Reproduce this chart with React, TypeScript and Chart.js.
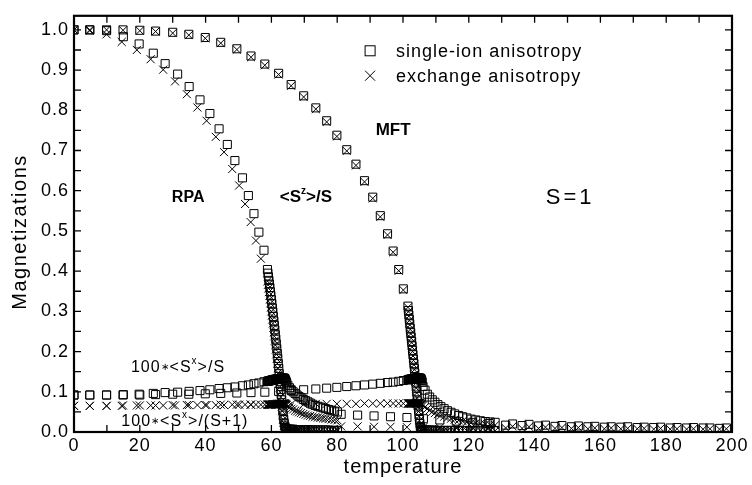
import React, { useEffect, useRef } from 'react';
import { Chart, registerables } from 'chart.js';

Chart.register(...registerables);

const FONT = '"Liberation Sans", Arial, Helvetica, sans-serif';

// ---------------- RPA, sparse part below Tc ----------------
const rpaSqT = [0, 4.8, 9.9, 15, 19.8, 24.1, 27.7, 31.5, 35, 38.3, 41.3, 44.1, 46.6, 48.9, 51.2, 53, 54.7, 56.2, 57.75];
const rpaSqSz = [1.0, 1.0, 0.998, 0.983, 0.965, 0.942, 0.916, 0.89, 0.859, 0.826, 0.792, 0.754, 0.715, 0.675, 0.632, 0.588, 0.543, 0.497, 0.452];
const rpaSqSx = [0.092, 0.092, 0.092, 0.093, 0.094, 0.096, 0.098, 0.099, 0.101, 0.103, 0.105, 0.108, 0.11, 0.112, 0.115, 0.117, 0.12, 0.122, 0.125];
const rpaXT = [0, 4.8, 9.9, 14.5, 19.1, 23.3, 27.1, 30.7, 34.3, 37.5, 40.3, 43.1, 45.6, 48.1, 50.2, 52, 53.7, 55.3, 56.8];
const rpaXSz = [1.0, 0.998, 0.989, 0.97, 0.95, 0.927, 0.901, 0.872, 0.84, 0.807, 0.774, 0.734, 0.696, 0.654, 0.613, 0.567, 0.522, 0.476, 0.431];
const rpaXSx = [0.065, 0.065, 0.065, 0.065, 0.066, 0.066, 0.066, 0.066, 0.067, 0.067, 0.067, 0.067, 0.067, 0.068, 0.068, 0.068, 0.068, 0.068, 0.068];

// ---------------- RPA, dense part near Tc ----------------
const rpaDenseT = [58.8, 58.95, 59.1, 59.25, 59.4, 59.55, 59.7, 59.85, 60.0, 60.15, 60.3, 60.45, 60.6, 60.75, 60.9, 61.05, 61.2, 61.35, 61.5, 61.65, 61.8, 61.95, 62.1, 62.25, 62.4, 62.55, 62.7, 62.85, 63.0, 63.15, 63.3, 63.45, 63.6, 63.75, 63.9, 64.05, 64.2, 64.35, 64.5, 64.65];
const rpaDenseSqSz = [0.404, 0.395, 0.386, 0.377, 0.368, 0.359, 0.349, 0.339, 0.329, 0.319, 0.308, 0.298, 0.287, 0.276, 0.265, 0.254, 0.242, 0.231, 0.219, 0.207, 0.195, 0.183, 0.17, 0.158, 0.145, 0.132, 0.119, 0.106, 0.093, 0.08, 0.067, 0.054, 0.042, 0.031, 0.022, 0.015, 0.011, 0.009, 0.008, 0.007];
const rpaDenseXSz = [0.375, 0.366, 0.357, 0.348, 0.339, 0.33, 0.32, 0.31, 0.3, 0.29, 0.28, 0.27, 0.259, 0.248, 0.238, 0.227, 0.216, 0.205, 0.193, 0.182, 0.17, 0.159, 0.147, 0.135, 0.123, 0.111, 0.099, 0.087, 0.075, 0.063, 0.052, 0.041, 0.031, 0.023, 0.016, 0.011, 0.008, 0.007, 0.006, 0.006];
const rpaDenseSqSx = [0.126, 0.126, 0.127, 0.127, 0.127, 0.128, 0.128, 0.128, 0.129, 0.129, 0.129, 0.13, 0.13, 0.13, 0.13, 0.131, 0.131, 0.131, 0.131, 0.132, 0.132, 0.132, 0.132, 0.132, 0.133, 0.133, 0.133, 0.133, 0.133, 0.134, 0.134, 0.134, 0.134, 0.134, 0.134, 0.133, 0.131, 0.128, 0.125, 0.122];
const rpaDenseXSx = [0.068, 0.068, 0.068, 0.068, 0.068, 0.068, 0.068, 0.068, 0.068, 0.068, 0.069, 0.069, 0.069, 0.069, 0.069, 0.069, 0.069, 0.069, 0.069, 0.069, 0.07, 0.07, 0.07, 0.07, 0.07, 0.07, 0.07, 0.07, 0.07, 0.07, 0.07, 0.07, 0.071, 0.071, 0.071, 0.071, 0.07, 0.069, 0.068, 0.067];

// ---------------- RPA, dense tail above Tc ----------------
const rpaTailT = [65.0, 65.5, 66.0, 66.6, 67.2, 67.8, 68.4, 69.0, 69.7, 70.4, 71.1, 71.8, 72.5, 73.3, 74.1, 74.9, 75.7, 76.5, 77.4, 78.3, 79.2, 80.1];
const rpaTailSqSx = [0.116, 0.11, 0.105, 0.1, 0.096, 0.092, 0.088, 0.085, 0.081, 0.078, 0.075, 0.072, 0.069, 0.066, 0.064, 0.062, 0.06, 0.058, 0.056, 0.054, 0.052, 0.05];
const rpaTailXSx = [0.064, 0.061, 0.058, 0.056, 0.053, 0.051, 0.049, 0.047, 0.045, 0.043, 0.041, 0.04, 0.038, 0.037, 0.036, 0.035, 0.034, 0.033, 0.032, 0.031, 0.03, 0.029];
const rpaTailSqSz = [0.007, 0.007, 0.007, 0.007, 0.006, 0.006, 0.006, 0.006, 0.006, 0.006, 0.006, 0.005, 0.005, 0.005, 0.005, 0.005, 0.005, 0.005, 0.005, 0.004, 0.004, 0.004];
const rpaTailXSz = [0.005, 0.005, 0.005, 0.005, 0.005, 0.005, 0.005, 0.004, 0.004, 0.004, 0.004, 0.004, 0.004, 0.004, 0.004, 0.004, 0.004, 0.003, 0.003, 0.003, 0.003, 0.003];

// ---------------- RPA, sparse part at high temperature ----------------
const rpaHighT = [81.2, 86.2, 91.2, 96.2, 101.2, 106.2, 111.2, 116.2, 121.2, 126.2, 131.2, 136.2, 141.2, 146.2, 151.2, 156.2, 161.2, 166.2, 171.2, 176.2, 181.2, 186.2, 191.2, 196.2];
const rpaHighSqSx = [0.044, 0.042, 0.04, 0.038, 0.036, 0.033, 0.03, 0.027, 0.024, 0.021, 0.017, 0.016, 0.015, 0.014, 0.013, 0.013, 0.012, 0.012, 0.011, 0.011, 0.01, 0.01, 0.01, 0.009];
const rpaHighXSx = [0.014, 0.014, 0.013, 0.013, 0.012, 0.012, 0.011, 0.011, 0.01, 0.01, 0.01, 0.009, 0.009, 0.009, 0.009, 0.008, 0.008, 0.008, 0.008, 0.007, 0.007, 0.007, 0.007, 0.007];

// ---------------- MFT, sparse part below Tc ----------------
const mftT = [0, 4.8, 9.9, 14.9, 20, 24.8, 30, 34.9, 39.9, 44.6, 49.5, 53.8, 58, 62.2, 66, 69.8, 73.5, 76.8, 79.9, 82.9, 85.7, 88.3, 90.8, 93.1, 95.3, 97.0, 98.7, 100.1];
const mftSqSz = [1.0, 1.0, 1.0, 1.0, 0.999, 0.997, 0.994, 0.989, 0.981, 0.969, 0.953, 0.935, 0.915, 0.892, 0.864, 0.836, 0.806, 0.774, 0.738, 0.702, 0.666, 0.625, 0.584, 0.538, 0.493, 0.45, 0.404, 0.356];
const mftXSz = [1.0, 1.0, 1.0, 0.999, 0.998, 0.996, 0.992, 0.987, 0.979, 0.967, 0.951, 0.932, 0.912, 0.889, 0.861, 0.833, 0.803, 0.771, 0.735, 0.699, 0.663, 0.622, 0.581, 0.535, 0.49, 0.447, 0.401, 0.353];
const mftSqSx = [0.092, 0.092, 0.092, 0.092, 0.092, 0.093, 0.094, 0.094, 0.095, 0.096, 0.097, 0.098, 0.099, 0.101, 0.103, 0.105, 0.107, 0.109, 0.111, 0.113, 0.115, 0.117, 0.119, 0.121, 0.123, 0.124, 0.126, 0.128];
const mftXSx = [0.065, 0.065, 0.065, 0.066, 0.066, 0.066, 0.067, 0.067, 0.067, 0.068, 0.068, 0.068, 0.068, 0.069, 0.069, 0.069, 0.07, 0.07, 0.07, 0.07, 0.07, 0.071, 0.071, 0.071, 0.071, 0.071, 0.071, 0.071];

// ---------------- MFT, dense part near Tc ----------------
const mftDenseT = [101.5, 101.64, 101.78, 101.92, 102.06, 102.2, 102.34, 102.48, 102.62, 102.76, 102.9, 103.04, 103.18, 103.32, 103.46, 103.6, 103.74, 103.88, 104.02, 104.16, 104.3, 104.44, 104.58, 104.72, 104.86, 105.0, 105.14, 105.28, 105.42, 105.56, 105.7, 105.84];
const mftDenseSqSz = [0.313, 0.302, 0.291, 0.28, 0.269, 0.258, 0.247, 0.236, 0.225, 0.214, 0.203, 0.192, 0.181, 0.17, 0.158, 0.147, 0.135, 0.124, 0.112, 0.1, 0.088, 0.077, 0.065, 0.054, 0.042, 0.031, 0.021, 0.013, 0.008, 0.005, 0.004, 0.003];
const mftDenseXSz = [0.31, 0.299, 0.288, 0.277, 0.266, 0.255, 0.244, 0.233, 0.222, 0.211, 0.2, 0.189, 0.178, 0.167, 0.155, 0.144, 0.132, 0.121, 0.109, 0.097, 0.085, 0.074, 0.062, 0.051, 0.039, 0.028, 0.019, 0.012, 0.007, 0.005, 0.004, 0.003];
const mftDenseSqSx = [0.13, 0.13, 0.13, 0.131, 0.131, 0.131, 0.131, 0.131, 0.132, 0.132, 0.132, 0.132, 0.132, 0.132, 0.133, 0.133, 0.133, 0.133, 0.133, 0.133, 0.134, 0.134, 0.134, 0.134, 0.134, 0.134, 0.134, 0.134, 0.133, 0.131, 0.128, 0.124];
const mftDenseXSx = [0.071, 0.071, 0.071, 0.071, 0.071, 0.071, 0.071, 0.071, 0.071, 0.071, 0.071, 0.071, 0.071, 0.071, 0.071, 0.071, 0.071, 0.071, 0.071, 0.072, 0.072, 0.072, 0.072, 0.072, 0.072, 0.072, 0.072, 0.072, 0.071, 0.07, 0.069, 0.067];

// ---------------- MFT, dense tail above Tc ----------------
const mftTailT = [106.1, 106.7, 107.4, 108.1, 108.9, 109.7, 110.6, 111.5, 112.5, 113.5, 114.6, 115.7, 116.9, 118.1, 119.4, 120.7, 122.1, 123.5, 125, 126.5, 128];
const mftTailSqSx = [0.113, 0.104, 0.094, 0.087, 0.08, 0.074, 0.068, 0.063, 0.058, 0.053, 0.049, 0.045, 0.041, 0.038, 0.035, 0.032, 0.03, 0.028, 0.026, 0.025, 0.024];
const mftTailXSx = [0.066, 0.062, 0.058, 0.054, 0.05, 0.047, 0.044, 0.041, 0.038, 0.035, 0.033, 0.031, 0.029, 0.027, 0.025, 0.023, 0.022, 0.02, 0.019, 0.018, 0.017];
const mftTailSz = [0.005, 0.005, 0.005, 0.005, 0.005, 0.004, 0.004, 0.004, 0.004, 0.004, 0.004, 0.004, 0.004, 0.004, 0.003, 0.003, 0.003, 0.003, 0.003, 0.003, 0.003];

// ---------------- MFT, sparse part at high temperature ----------------
const mftHighT = [133.3, 138.3, 143.3, 148.3, 153.3, 158.3, 163.3, 168.3, 173.3, 178.3, 183.3, 188.3, 193.3, 198.3];
const mftHighSqSx = [0.02, 0.019, 0.017, 0.016, 0.015, 0.014, 0.013, 0.013, 0.012, 0.012, 0.011, 0.011, 0.01, 0.01];
const mftHighXSx = [0.014, 0.013, 0.012, 0.011, 0.011, 0.01, 0.01, 0.009, 0.009, 0.009, 0.008, 0.008, 0.008, 0.008];

// ---------------- axes ----------------
const xTickValues = [0, 20, 40, 60, 80, 100, 120, 140, 160, 180, 200];
const xTickMarks = [10, 20, 30, 40, 50, 60, 70, 80, 90, 100, 110, 120, 130, 140, 150, 160, 170, 180, 190];
const yTickMarks = [0.05, 0.1, 0.15, 0.2, 0.25, 0.3, 0.35, 0.4, 0.45, 0.5, 0.55, 0.6, 0.65, 0.7, 0.75, 0.8, 0.85, 0.9, 0.95, 1.0];
const xTitle = 'temperature';
const yTitle = 'Magnetizations';
const legendLabels = ['single-ion anisotropy', 'exchange anisotropy'];

type Pt = { x: number; y: number };
function pts(ts: number[][], vs: number[][]): Pt[] {
  const out: Pt[] = [];
  ts.forEach((t, k) => t.forEach((tv, i) => out.push({ x: tv, y: vs[k][i] })));
  return out;
}

function series(label: string, data: Pt[], style: string) {
  return {
    label,
    data,
    pointStyle: style,
    pointRadius: 5.7,
    pointBorderWidth: 1,
    pointBorderColor: '#000',
    pointBackgroundColor: 'rgba(0,0,0,0)',
    borderColor: '#000',
    backgroundColor: 'rgba(0,0,0,0)',
    showLine: false,
  };
}

type Part = { t: string; size: number; bold?: boolean; dy?: number };

function drawRich(ctx: CanvasRenderingContext2D, parts: Part[], x: number, y: number, spacing: number, align: 'center' | 'left') {
  (ctx as any).letterSpacing = spacing + 'px';
  ctx.textAlign = 'left';
  ctx.textBaseline = 'middle';
  const ws = parts.map((p) => {
    ctx.font = `${p.bold ? 'bold ' : ''}${p.size}px ${FONT}`;
    return ctx.measureText(p.t).width;
  });
  const total = ws.reduce((a, b) => a + b, 0);
  let cx = align === 'center' ? x - total / 2 : x;
  parts.forEach((p, i) => {
    ctx.font = `${p.bold ? 'bold ' : ''}${p.size}px ${FONT}`;
    ctx.fillText(p.t, cx, y + (p.dy || 0));
    cx += ws[i];
  });
}

const annotations: { parts: Part[]; t: number; m: number; sp: number }[] = [
  { parts: [{ t: 'RPA', size: 16, bold: true }], t: 34.7, m: 0.583, sp: 0 },
  { parts: [{ t: '<S', size: 17, bold: true }, { t: 'z', size: 10, bold: true, dy: -6 }, { t: '>/S', size: 17, bold: true }], t: 70.5, m: 0.583, sp: 0 },
  { parts: [{ t: 'MFT', size: 17, bold: true }], t: 97, m: 0.75, sp: 0 },
  { parts: [{ t: 'S=1', size: 22 }], t: 150.8, m: 0.583, sp: 3 },
  { parts: [{ t: '100', size: 16 }, { t: '∗', size: 10 }, { t: '<S', size: 16 }, { t: 'x', size: 10, dy: -6 }, { t: '>/S', size: 16 }], t: 31.6, m: 0.161, sp: 1 },
  { parts: [{ t: '100', size: 16 }, { t: '∗', size: 10 }, { t: '<S', size: 16 }, { t: 'x', size: 10, dy: -6 }, { t: '>/(S+1)', size: 16 }], t: 33.7, m: 0.027, sp: 1 },
];

const decor = {
  id: 'decor',
  beforeDraw(chart: any) {
    chart.ctx.letterSpacing = '1px';
  },
  afterDraw(chart: any) {
    const ctx: CanvasRenderingContext2D = chart.ctx;
    const a = chart.chartArea;
    const xs = chart.scales.x;
    const ys = chart.scales.y;
    ctx.save();
    ctx.strokeStyle = '#000';
    ctx.fillStyle = '#000';
    // inward tick marks
    ctx.lineWidth = 1.3;
    ctx.beginPath();
    xTickMarks.forEach((v) => {
      const px = xs.getPixelForValue(v);
      ctx.moveTo(px, a.bottom);
      ctx.lineTo(px, a.bottom - 7);
      ctx.moveTo(px, a.top);
      ctx.lineTo(px, a.top + 7);
    });
    yTickMarks.forEach((v) => {
      const py = ys.getPixelForValue(v);
      ctx.moveTo(a.left, py);
      ctx.lineTo(a.left + 7, py);
      ctx.moveTo(a.right, py);
      ctx.lineTo(a.right - 7, py);
    });
    ctx.stroke();
    // frame
    ctx.lineWidth = 2.2;
    ctx.strokeRect(a.left, a.top, a.right - a.left, a.bottom - a.top);

    // annotations
    annotations.forEach((an) => {
      drawRich(ctx, an.parts, xs.getPixelForValue(an.t), ys.getPixelForValue(an.m), an.sp, 'center');
    });

    // legend
    const lx = xs.getPixelForValue(90);
    const ly1 = ys.getPixelForValue(0.948);
    const ly2 = ys.getPixelForValue(0.886);
    ctx.lineWidth = 1;
    ctx.strokeRect(lx - 5, ly1 - 5, 10, 10);
    ctx.beginPath();
    ctx.moveTo(lx - 5, ly2 - 5);
    ctx.lineTo(lx + 5, ly2 + 5);
    ctx.moveTo(lx + 5, ly2 - 5);
    ctx.lineTo(lx - 5, ly2 + 5);
    ctx.stroke();
    const tx = xs.getPixelForValue(97.9);
    drawRich(ctx, [{ t: legendLabels[0], size: 18 }], tx, ly1 + 1, 1, 'left');
    drawRich(ctx, [{ t: legendLabels[1], size: 18 }], tx, ly2 + 1, 1, 'left');

    // axis titles
    drawRich(ctx, [{ t: xTitle, size: 20 }], (a.left + a.right) / 2, 467, 1, 'center');
    ctx.save();
    ctx.translate(20, 232);
    ctx.rotate(-Math.PI / 2);
    drawRich(ctx, [{ t: yTitle, size: 20 }], 0, 0, 1.5, 'center');
    ctx.restore();

    ctx.restore();
    (ctx as any).letterSpacing = '0px';
  },
};

export default function App() {
  const ref = useRef<HTMLCanvasElement>(null);
  useEffect(() => {
    const canvas = ref.current;
    if (!canvas) return;
    const datasets = [
      series('RPA single-ion <Sz>/S', pts([rpaSqT, rpaDenseT, rpaTailT], [rpaSqSz, rpaDenseSqSz, rpaTailSqSz]), 'rect'),
      series('RPA exchange <Sz>/S', pts([rpaXT, rpaDenseT, rpaTailT], [rpaXSz, rpaDenseXSz, rpaTailXSz]), 'crossRot'),
      series('RPA single-ion 100<Sx>', pts([rpaSqT, rpaDenseT, rpaTailT, rpaHighT], [rpaSqSx, rpaDenseSqSx, rpaTailSqSx, rpaHighSqSx]), 'rect'),
      series('RPA exchange 100<Sx>', pts([rpaXT, rpaDenseT, rpaTailT, rpaHighT], [rpaXSx, rpaDenseXSx, rpaTailXSx, rpaHighXSx]), 'crossRot'),
      series('MFT single-ion <Sz>/S', pts([mftT, mftDenseT, mftTailT], [mftSqSz, mftDenseSqSz, mftTailSz]), 'rect'),
      series('MFT exchange <Sz>/S', pts([mftT, mftDenseT, mftTailT], [mftXSz, mftDenseXSz, mftTailSz]), 'crossRot'),
      series('MFT single-ion 100<Sx>', pts([mftT, mftDenseT, mftTailT, mftHighT], [mftSqSx, mftDenseSqSx, mftTailSqSx, mftHighSqSx]), 'rect'),
      series('MFT exchange 100<Sx>', pts([mftT, mftDenseT, mftTailT, mftHighT], [mftXSx, mftDenseXSx, mftTailXSx, mftHighXSx]), 'crossRot'),
    ];
    const chart = new Chart(canvas, {
      type: 'scatter',
      data: { datasets: datasets as any },
      options: {
        responsive: false,
        animation: false,
        devicePixelRatio: 1,
        events: [],
        layout: { padding: { top: 15, right: 20, left: 0, bottom: 0 } },
        plugins: { legend: { display: false }, tooltip: { enabled: false } },
        scales: {
          x: {
            type: 'linear',
            min: 0,
            max: 200,
            grid: { display: false, drawTicks: false },
            border: { display: false },
            afterFit: (s: any) => { s.height = 53; },
            afterBuildTicks: (s: any) => { s.ticks = xTickValues.map((v) => ({ value: v })); },
            ticks: {
              color: '#000',
              padding: 3,
              maxRotation: 0,
              autoSkip: false,
              font: { family: FONT, size: 18 },
              callback: (v: any) => String(v),
            },
          },
          y: {
            type: 'linear',
            min: 0,
            max: 1.035,
            grid: { display: false, drawTicks: false },
            border: { display: false },
            afterFit: (s: any) => { s.width = 74; },
            ticks: {
              color: '#000',
              padding: 5,
              stepSize: 0.1,
              includeBounds: false,
              font: { family: FONT, size: 18 },
              callback: (v: any) => Number(v).toFixed(1),
            },
          },
        },
      } as any,
      plugins: [decor],
    });
    return () => chart.destroy();
  }, []);
  return (
    <div style={{ position: 'absolute', left: 0, top: 0, width: 752, height: 485, background: '#fff' }}>
      <canvas ref={ref} width={752} height={485} />
    </div>
  );
}
